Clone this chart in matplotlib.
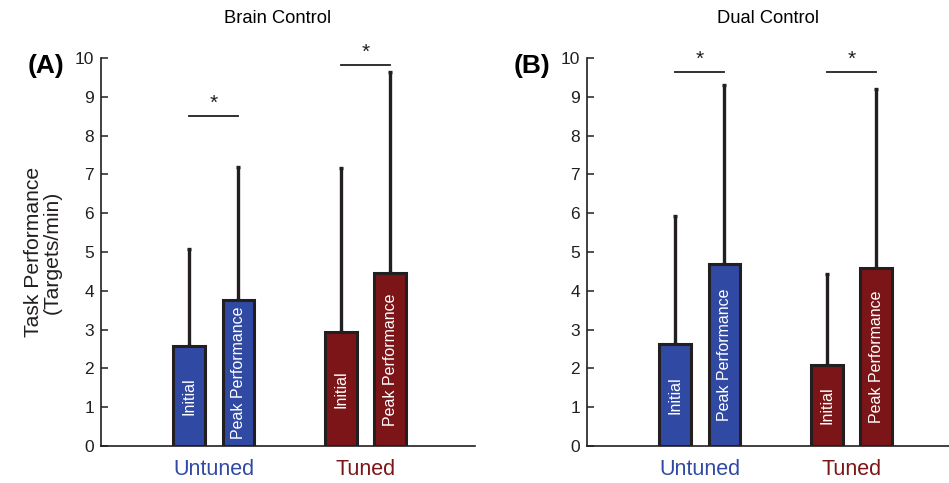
import matplotlib
matplotlib.use("Agg")
import matplotlib.pyplot as plt
import numpy as np

plt.rcParams['font.family'] = ['Liberation Sans', 'DejaVu Sans']

# data
groups = ["Untuned", "Tuned"]
conditions = ["Initial", "Peak Performance"]
panel_titles = ["Brain Control", "Dual Control"]
panel_tags = ["(A)", "(B)"]

brain_means = [[2.57, 3.77], [2.95, 4.45]]
brain_upper = [[5.08, 7.20], [7.17, 9.65]]
dual_means = [[2.62, 4.68], [2.08, 4.60]]
dual_upper = [[5.93, 9.30], [4.43, 9.20]]

brain_sig_y = [8.5, 9.82]
dual_sig_y = [9.63, 9.65]

yticks = list(range(0, 11))

BLUE = "#3049A3"
RED = "#7C1517"
EDGE = "#231F20"
group_colors = [BLUE, RED]

fig = plt.figure(figsize=(9.49, 4.83), dpi=100)
ax_a = fig.add_axes([0.1064, 0.0766, 0.394, 0.8033])
ax_b = fig.add_axes([0.6185, 0.0766, 0.394, 0.8033])

offset = 0.163
width = 0.21
centers = np.array([1.0, 2.0])


def draw_panel(ax, means, upper, sig_y):
    for gi, gc in enumerate(centers):
        for ci, sign in enumerate([-1, 1]):
            x = gc + sign * offset
            m = means[gi][ci]
            up = upper[gi][ci] - m
            ax.bar(x, m, width=width, color=group_colors[gi], edgecolor=EDGE,
                   linewidth=2.2, zorder=3)
            ax.errorbar(x, m, yerr=[[0], [up]], fmt="none", ecolor=EDGE,
                        elinewidth=2.4, capsize=1.6, capthick=2.4, zorder=2)
            ax.text(x, m / 2, conditions[ci], rotation=90, color="white",
                    ha="center", va="center", fontsize=11.5, zorder=4)
        # significance bracket
        ax.plot([gc - offset, gc + offset], [sig_y[gi], sig_y[gi]],
                color=EDGE, linewidth=1.3, clip_on=False)
        ax.text(gc, sig_y[gi] + 0.08, "*", ha="center", va="bottom",
                fontsize=15, color=EDGE, clip_on=False)

    ax.set_xlim(0.258, 2.719)
    ax.set_ylim(0, 10)
    ax.set_yticks(yticks)
    ax.set_xticks(centers)
    ax.set_xticklabels(groups, fontsize=15.5)
    for lbl, c in zip(ax.get_xticklabels(), group_colors):
        lbl.set_color(c)
    ax.tick_params(axis="x", length=0, pad=9)
    ax.tick_params(axis="y", direction="in", length=5, width=1.1,
                   colors=EDGE, labelsize=12.5, pad=5)
    ax.spines["top"].set_visible(False)
    ax.spines["right"].set_visible(False)
    for s in ["left", "bottom"]:
        ax.spines[s].set_color(EDGE)
        ax.spines[s].set_linewidth(1.2)


draw_panel(ax_a, brain_means, brain_upper, brain_sig_y)
draw_panel(ax_b, dual_means, dual_upper, dual_sig_y)

ax_a.set_ylabel("Task Performance\n(Targets/min)", fontsize=15.2, color="#231F20",
                labelpad=9, linespacing=1.0)

fig.text(0.293, 0.962, panel_titles[0], ha="center", va="center", fontsize=13.2)
fig.text(0.809, 0.962, panel_titles[1], ha="center", va="center", fontsize=13.2)
fig.text(0.029, 0.864, panel_tags[0], ha="left", va="center", fontsize=19,
         fontweight="bold")
fig.text(0.541, 0.864, panel_tags[1], ha="left", va="center", fontsize=19,
         fontweight="bold")

fig.savefig("out.png", dpi=100)
